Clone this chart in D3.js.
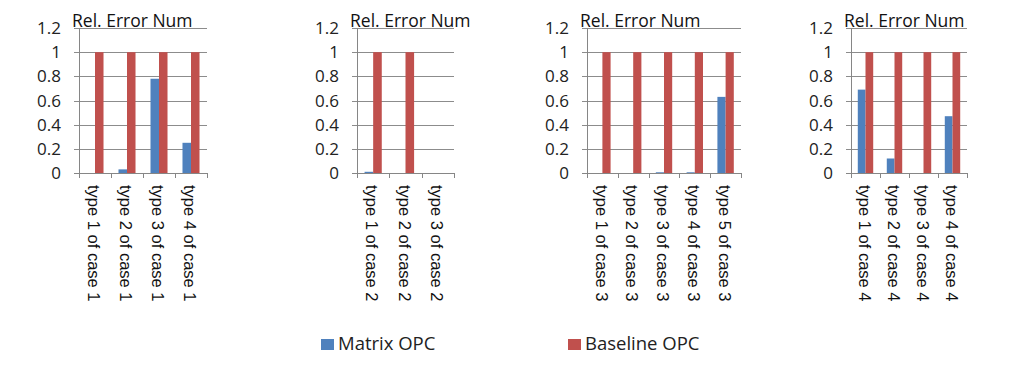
<!DOCTYPE html>
<html>
<head>
<meta charset="utf-8">
<script src="https://cdn.jsdelivr.net/npm/d3@7"></script>
<style>
  body { margin: 0; background: #fff; }
  svg { display: block; }
</style>
</head>
<body>
<div id="chart"></div>
<script>
// 데이터
const series = ["Matrix OPC", "Baseline OPC"];
const colors = ["#4f81bd", "#c0504d"];

const case1Labels = ["type 1 of case 1", "type 2 of case 1", "type 3 of case 1", "type 4 of case 1"];
const case1Matrix = [0, 0.03, 0.78, 0.25];
const case1Baseline = [1, 1, 1, 1];

const case2Labels = ["type 1 of case 2", "type 2 of case 2", "type 3 of case 2"];
const case2Matrix = [0.01, 0, 0];
const case2Baseline = [1, 1, 0];

const case3Labels = ["type 1 of case 3", "type 2 of case 3", "type 3 of case 3", "type 4 of case 3", "type 5 of case 3"];
const case3Matrix = [0, 0, 0.006, 0.006, 0.63];
const case3Baseline = [1, 1, 1, 1, 1];

const case4Labels = ["type 1 of case 4", "type 2 of case 4", "type 3 of case 4", "type 4 of case 4"];
const case4Matrix = [0.69, 0.12, 0, 0.47];
const case4Baseline = [1, 1, 1, 1];

const yTicks = [0, 0.2, 0.4, 0.6, 0.8, 1, 1.2];
const yTitle = "Rel. Error Num";

// 패널 배치
const panels = [
  { labels: case1Labels, vals: [case1Matrix, case1Baseline], left: 79, right: 207 },
  { labels: case2Labels, vals: [case2Matrix, case2Baseline], left: 357, right: 454 },
  { labels: case3Labels, vals: [case3Matrix, case3Baseline], left: 587, right: 741 },
  { labels: case4Labels, vals: [case4Matrix, case4Baseline], left: 851, right: 967 }
];

const W = 1024, H = 373;
const plotTop = 28, plotBottom = 173;

const svg = d3.select("#chart").append("svg")
  .attr("width", W)
  .attr("height", H);

const y = d3.scaleLinear().domain([0, 1.2]).range([plotBottom, plotTop]);

panels.forEach(p => {
  const g = svg.append("g");

  const x0 = d3.scaleBand()
    .domain(p.labels)
    .range([p.left, p.right])
    .padding(0);

  const x1 = d3.scaleBand()
    .domain(series)
    .range([0, x0.bandwidth()])
    .paddingInner(0)
    .paddingOuter(0.88);

  // 격자선
  g.selectAll(".grid")
    .data(yTicks)
    .enter()
    .append("line")
    .attr("x1", p.left - 5)
    .attr("x2", p.right)
    .attr("y1", d => Math.round(y(d)) + 0.5)
    .attr("y2", d => Math.round(y(d)) + 0.5)
    .attr("stroke", d => d === 0 ? "#868686" : "#8c8c8c")
    .attr("stroke-width", 1);

  // y축 눈금 라벨
  g.selectAll(".ytick")
    .data(yTicks)
    .enter()
    .append("text")
    .attr("x", p.left - 18)
    .attr("y", d => y(d))
    .attr("dy", "0.36em")
    .attr("text-anchor", "end")
    .style("font-family", "'Open Sans', sans-serif")
    .style("font-size", "17px")
    .style("fill", "#222")
    .text(d => d);

  // 막대
  p.vals.forEach((vals, si) => {
    g.selectAll(".bar" + si)
      .data(p.labels.map((lab, i) => ({ lab, v: vals[i] })))
      .enter()
      .append("rect")
      .attr("x", d => x0(d.lab) + x1(series[si]))
      .attr("width", x1.bandwidth())
      .attr("y", d => y(d.v))
      .attr("height", d => plotBottom - y(d.v))
      .attr("fill", colors[si]);
  });

  // y축 선
  g.append("line")
    .attr("x1", p.left + 0.5).attr("x2", p.left + 0.5)
    .attr("y1", plotTop).attr("y2", plotBottom + 0.5)
    .attr("stroke", "#868686");

  // x축 범주 경계 눈금
  const bounds = p.labels.map(l => x0(l)).concat([p.right]);
  g.selectAll(".xtick")
    .data(bounds)
    .enter()
    .append("line")
    .attr("x1", d => Math.round(d) + 0.5)
    .attr("x2", d => Math.round(d) + 0.5)
    .attr("y1", plotBottom)
    .attr("y2", plotBottom + 5)
    .attr("stroke", "#868686");

  // 회전된 범주 라벨
  g.selectAll(".xlabel")
    .data(p.labels)
    .enter()
    .append("text")
    .attr("transform", d => `translate(${x0(d) + x0.bandwidth() / 2 - 1},185) rotate(90)`)
    .attr("dy", "0.35em")
    .style("font-family", "'Liberation Sans', Arial, sans-serif")
    .style("font-size", "16.5px")
    .style("fill", "#111")
    .text(d => d);

  // 축 제목
  g.append("text")
    .attr("x", p.left - 7)
    .attr("y", 27)
    .style("font-family", "'Open Sans', sans-serif")
    .style("font-size", "17.5px")
    .style("fill", "#111")
    .text(yTitle);
});

// 범례
const legendX = [321, 568];
const legend = svg.selectAll(".legend")
  .data(series)
  .enter()
  .append("g")
  .attr("transform", (d, i) => `translate(${legendX[i]},339)`);

legend.append("rect")
  .attr("width", 13)
  .attr("height", 11)
  .attr("fill", (d, i) => colors[i]);

legend.append("text")
  .attr("x", 17)
  .attr("y", 11)
  .style("font-family", "'Open Sans', sans-serif")
  .style("font-size", "18.5px")
  .style("fill", "#222")
  .text(d => d);
</script>
</body>
</html>
